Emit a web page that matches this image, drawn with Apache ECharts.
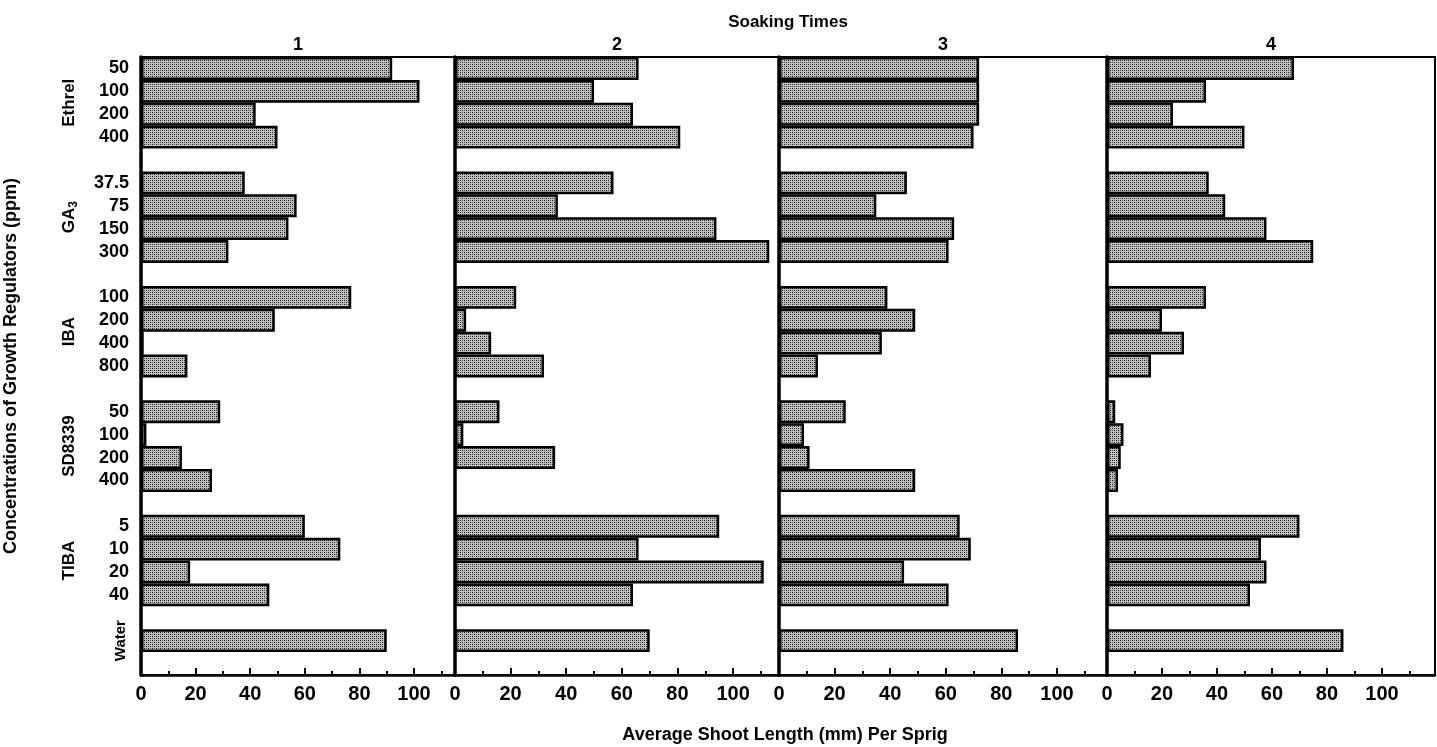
<!DOCTYPE html>
<html>
<head>
<meta charset="utf-8">
<script src="https://cdn.jsdelivr.net/npm/echarts@6/dist/echarts.min.js"></script>
<style>
  html, body { margin: 0; padding: 0; background: #fff; }
  #main { width: 1437px; height: 747px; }
</style>
</head>
<body>
<div id="main"></div>
<script>
// growth regulators and their concentrations (ppm), top to bottom
var regulators = ['Ethrel', 'GA3', 'IBA', 'SD8339', 'TIBA', 'Water'];
var concEthrel = ['50', '100', '200', '400'];
var concGA3 = ['37.5', '75', '150', '300'];
var concIBA = ['100', '200', '400', '800'];
var concSD8339 = ['50', '100', '200', '400'];
var concTIBA = ['5', '10', '20', '40'];
var concWater = [''];

var soakingTimes = ['1', '2', '3', '4'];
var xTickLabels = [0, 20, 40, 60, 80, 100];

// average shoot length (mm) per sprig, same order as the rows above
var soak1 = [92, 102, 42, 50,  38, 57, 54, 32,  77, 49, 1, 17,  29, 2, 15, 26,  60, 73, 18, 47,  90];
var soak2 = [66, 50, 64, 81,  57, 37, 94, 113,  22, 4, 13, 32,  16, 3, 36, null,  95, 66, 111, 64,  70];
var soak3 = [72, 72, 72, 70,  46, 35, 63, 61,  39, 49, 37, 14,  24, 9, 11, 49,  65, 69, 45, 61,  86];
var soak4 = [68, 36, 24, 50,  37, 43, 58, 75,  36, 20, 28, 16,  3, 6, 5, 4,  70, 56, 58, 52,  86];

var FONT = '"Liberation Sans", Arial, sans-serif';

// stipple fill like the printed bars
var pc = document.createElement('canvas');
pc.width = 4; pc.height = 4;
var g = pc.getContext('2d');
g.fillStyle = '#c0c0c0'; g.fillRect(0, 0, 4, 4);
g.fillStyle = '#111'; g.fillRect(0, 0, 1, 1); g.fillRect(2, 2, 1, 1);
g.fillStyle = '#5a5a5a'; g.fillRect(2, 0, 1, 1); g.fillRect(0, 2, 1, 1);
var stipple = { image: pc, repeat: 'repeat' };

// categories with a blank slot between groups
var concLists = [concEthrel, concGA3, concIBA, concSD8339, concTIBA, concWater];
var categories = [];
var groupRows = [];
regulators.forEach(function (r, gi) {
    if (gi > 0) categories.push('gap' + gi);
    var rows = [];
    concLists[gi].forEach(function (c) {
        rows.push(r + '|' + c);
        categories.push(r + '|' + c);
    });
    groupRows.push(rows);
});
categories.push('gapEnd');

function toSlots(values) {
    var k = 0;
    return categories.map(function (c) {
        if (c.indexOf('gap') === 0) return null;
        return values[k++];
    });
}

var soaks = [soak1, soak2, soak3, soak4];
var panelLeft = [141, 455, 779, 1107];
var panelRight = [455, 779, 1107, 1435];
var panelMax = [115, 116.5, 118, 119.3];

var grids = [], xAxes = [], yAxes = [], series = [], titles = [];

soaks.forEach(function (vals, i) {
    grids.push({
        left: panelLeft[i], width: panelRight[i] - panelLeft[i], top: 57, bottom: 72,
        show: true, borderColor: '#000', borderWidth: 2, backgroundColor: 'transparent',
        outerBoundsMode: 'none'
    });
    xAxes.push({
        type: 'value', gridIndex: i, min: 0, max: panelMax[i], interval: 20,
        axisLine: { show: true, lineStyle: { color: '#000', width: 2.5 } },
        axisTick: { show: true, inside: true, length: 7, lineStyle: { color: '#000', width: 2 } },
        minorTick: { show: true, splitNumber: 2, length: 4, lineStyle: { color: '#000', width: 2 } },
        splitLine: { show: false },
        axisLabel: {
            color: '#000', fontFamily: FONT, fontWeight: 'bold', fontSize: 20, margin: 9,
            showMaxLabel: false,
            formatter: function (v) { return xTickLabels.indexOf(v) >= 0 ? String(v) : ''; }
        }
    });
    yAxes.push({
        type: 'category', gridIndex: i, data: categories, inverse: true,
        axisLine: { show: true, lineStyle: { color: '#000', width: 3.5 } },
        axisTick: { show: false },
        axisLabel: {
            show: i === 0, interval: 0, color: '#000', fontFamily: FONT, fontWeight: 'bold',
            fontSize: 18, margin: 12,
            formatter: function (c) { return c.indexOf('|') > 0 ? c.split('|')[1] : ''; }
        },
        name: i === 0 ? 'Concentrations of Growth Regulators (ppm)' : '',
        nameLocation: 'middle', nameRotate: 90, nameGap: 121,
        nameTextStyle: { color: '#000', fontFamily: FONT, fontWeight: 'bold', fontSize: 18 }
    });
    series.push({
        type: 'bar', xAxisIndex: i, yAxisIndex: i, data: toSlots(vals),
        barCategoryGap: '0%', silent: true,
        itemStyle: { color: stipple, borderColor: '#000', borderWidth: 2.5 }
    });
    titles.push({
        text: soakingTimes[i], left: (panelLeft[i] + panelRight[i]) / 2, top: 36, textAlign: 'center',
        padding: 0,
        textStyle: { color: '#000', fontFamily: FONT, fontWeight: 'bold', fontSize: 18 }
    });
});

titles.push({
    text: 'Soaking Times', left: 788, top: 14, textAlign: 'center', padding: 0,
    textStyle: { color: '#000', fontFamily: FONT, fontWeight: 'bold', fontSize: 17 }
});
titles.push({
    text: 'Average Shoot Length (mm) Per Sprig', left: 785, top: 726, textAlign: 'center', padding: 0,
    textStyle: { color: '#000', fontFamily: FONT, fontWeight: 'bold', fontSize: 18 }
});

var myChart = echarts.init(document.getElementById('main'));
myChart.setOption({
    animation: false,
    backgroundColor: '#fff',
    title: titles,
    grid: grids,
    xAxis: xAxes,
    yAxis: yAxes,
    series: series
});

// rotated regulator names beside their groups
var labels = [];
groupRows.forEach(function (rows, gi) {
    var y0 = myChart.convertToPixel({ yAxisIndex: 0 }, rows[0]);
    var y1 = myChart.convertToPixel({ yAxisIndex: 0 }, rows[rows.length - 1]);
    var name = regulators[gi];
    var isWater = name === 'Water';
    var style = {
        text: name === 'GA3' ? '{n|GA}{s|3}' : name,
        fill: '#000', font: 'bold 17px ' + FONT,
        textAlign: 'center', textVerticalAlign: 'middle', align: 'center', verticalAlign: 'middle'
    };
    if (name === 'GA3') {
        style.rich = {
            n: { fontFamily: FONT, fontWeight: 'bold', fontSize: 17, fill: '#000', color: '#000' },
            s: { fontFamily: FONT, fontWeight: 'bold', fontSize: 12, fill: '#000', color: '#000', padding: [9, 0, 0, 0] }
        };
    }
    if (isWater) style.font = 'bold 15px ' + FONT;
    labels.push({
        type: 'text', x: isWater ? 121 : 69, y: (y0 + y1) / 2, rotation: Math.PI / 2,
        style: style, silent: true
    });
});
myChart.setOption({ graphic: labels });
</script>
</body>
</html>
